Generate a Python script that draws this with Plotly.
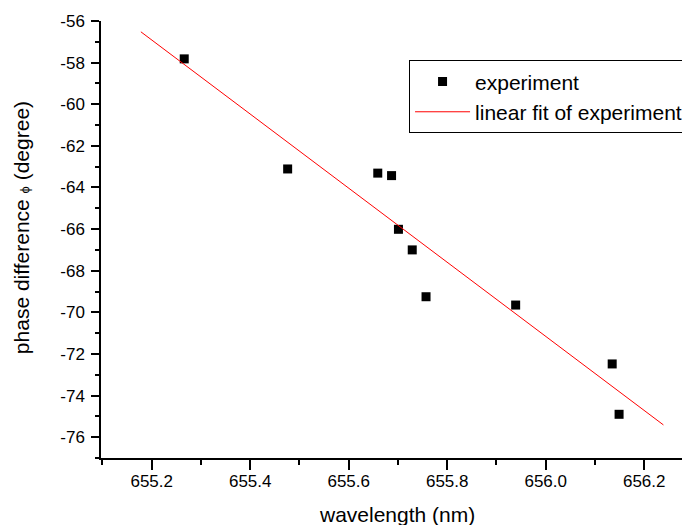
import plotly.graph_objects as go

wavelength = [655.266, 655.476, 655.659, 655.687, 655.701, 655.729, 655.757, 655.939, 656.135, 656.149]
phase = [-57.82, -63.11, -63.31, -63.43, -66.01, -67.00, -69.25, -69.65, -72.48, -74.90]

fit_x = [655.178, 656.239]
fit_y = [-56.52, -75.41]

x_ticks = [655.2, 655.4, 655.6, 655.8, 656.0, 656.2]
x_ticklabels = ["655.2", "655.4", "655.6", "655.8", "656.0", "656.2"]
y_ticks = [-56, -58, -60, -62, -64, -66, -68, -70, -72, -74, -76]

FONT = "Liberation Sans, Arial, sans-serif"

fig = go.Figure()
fig.add_trace(go.Scatter(
    x=wavelength, y=phase, mode="markers", name="experiment",
    marker=dict(symbol="square", size=9, color="black", line=dict(width=0)),
))
fig.add_trace(go.Scatter(
    x=fit_x, y=fit_y, mode="lines", name="linear fit of experiment",
    line=dict(color="#FF0000", width=1),
))

# page body has an 8px default margin; figure sized so plot area lands where the reference has it
fig.update_layout(
    width=682, height=517,
    margin=dict(l=93, r=0, t=13, b=67),
    paper_bgcolor="white", plot_bgcolor="white",
    font=dict(family=FONT, size=17, color="black"),
    showlegend=True,
    legend=dict(
        x=0.523, y=0.91, xanchor="left", yanchor="top",
        bgcolor="white", bordercolor="black", borderwidth=1,
        font=dict(size=21, family=FONT, color="black"),
        tracegroupgap=0, itemwidth=55,
    ),
    xaxis=dict(
        range=[655.097, 656.293],
        tickvals=x_ticks, ticktext=x_ticklabels,
        ticks="outside", ticklen=10, tickwidth=1.5, tickcolor="black",
        minor=dict(dtick=0.1, tick0=655.1, ticks="outside", ticklen=5, tickwidth=1.5, tickcolor="black"),
        showline=True, linecolor="black", linewidth=1.5,
        showgrid=False, zeroline=False, automargin=False,
        tickfont=dict(size=17),
        ticklabelstandoff=-3,
    ),
    yaxis=dict(
        range=[-77, -56],
        tickvals=y_ticks, ticktext=[str(v) for v in y_ticks],
        ticks="outside", ticklen=8, tickwidth=1.5, tickcolor="black",
        minor=dict(dtick=1, tick0=-77, ticks="outside", ticklen=4, tickwidth=1.5, tickcolor="black"),
        showline=True, linecolor="black", linewidth=1.5,
        showgrid=False, zeroline=False, automargin=False,
        tickfont=dict(size=17),
        ticklabelstandoff=3,
    ),
    annotations=[
        dict(text="wavelength (nm)", xref="paper", yref="paper",
             x=0.503, y=-0.1296, xanchor="center", yanchor="middle",
             showarrow=False, font=dict(size=21)),
        dict(text="phase difference <span style='font-size:13px'>ϕ</span> (degree)",
             xref="paper", yref="paper", x=-0.1358, y=0.526,
             xanchor="center", yanchor="middle", textangle=-90,
             showarrow=False, font=dict(size=21)),
    ],
)

fig.write_html("out.html")
